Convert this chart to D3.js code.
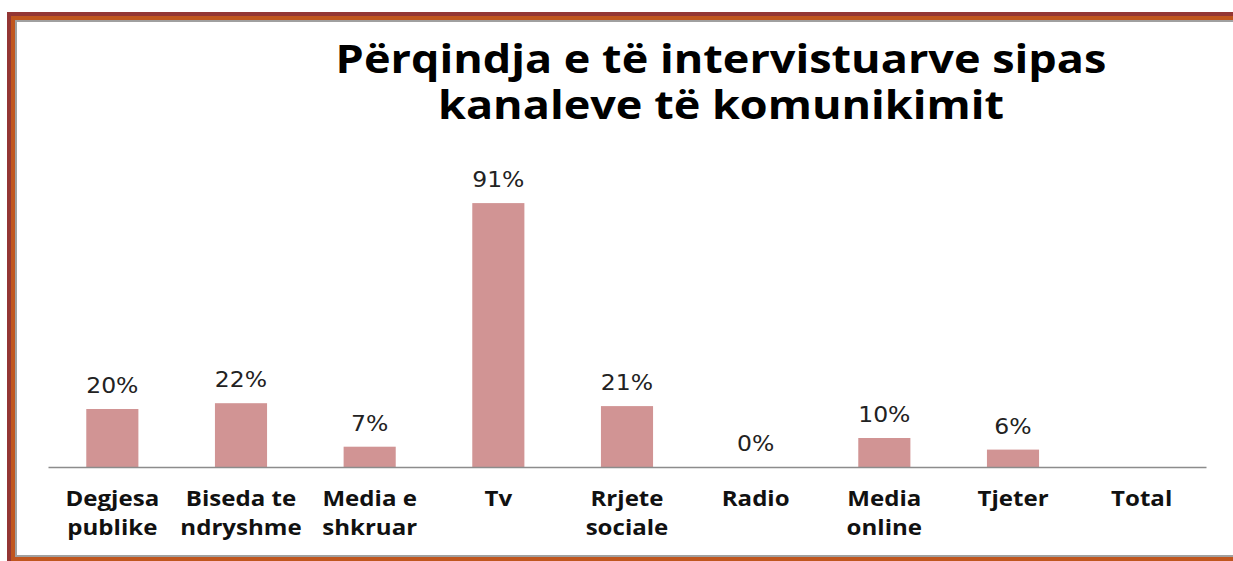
<!DOCTYPE html>
<html>
<head>
<meta charset="utf-8">
<script src="https://cdn.jsdelivr.net/npm/d3@7"></script>
<style>
  body { margin: 0; background: #fff; }
  svg { display: block; }
</style>
</head>
<body>
<svg id="chart" width="1233" height="561"></svg>
<script>
const categories = [
  ["Degjesa", "publike"],
  ["Biseda te", "ndryshme"],
  ["Media e", "shkruar"],
  ["Tv"],
  ["Rrjete", "sociale"],
  ["Radio"],
  ["Media", "online"],
  ["Tjeter"],
  ["Total"]
];
const values = [20, 22, 7, 91, 21, 0, 10, 6, null];
const titleLines = ["Përqindja e të intervistuarve sipas", "kanaleve të komunikimit"];

const width = 1233, height = 561;
const stretch = 1.12; // source picture is a bit wider than tall
const svg = d3.select("#chart");

// frame (dark red / orange / grey), cut off on the right like the source
const frame = [
  {inset: 0, color: "#943634"},
  {inset: 4, color: "#c0561e"},
  {inset: 8, color: "#a0a0a0"},
  {inset: 10, color: "#ffffff"}
];
frame.forEach(f => {
  svg.append("rect")
    .attr("x", 7 + f.inset)
    .attr("y", 12 + f.inset)
    .attr("width", 1300)
    .attr("height", 556 - 12 - f.inset * 2 + 9)
    .attr("fill", f.color);
});

const ids = categories.map((d, i) => i);
const x = d3.scaleBand()
  .domain(ids)
  .range([48, 1206])
  .paddingInner(0.595)
  .paddingOuter(0.2975);

const y = d3.scaleLinear()
  .domain([0, 100])
  .range([467, 177]);

// title
svg.append("g")
  .selectAll("text")
  .data(titleLines)
  .join("text")
    .attr("transform", (d, i) => `translate(721,${73 + i * 46}) scale(${stretch},1)`)
    .attr("text-anchor", "middle")
    .style("font-family", "'Open Sans', sans-serif")
    .style("font-weight", "bold")
    .style("font-size", "40.2px")
    .attr("fill", "#000")
    .text(d => d);

// bars
const barData = values.map((v, i) => ({i, v})).filter(d => d.v !== null);
svg.append("g")
  .selectAll("rect")
  .data(barData)
  .join("rect")
    .attr("x", d => x(d.i))
    .attr("y", d => y(d.v))
    .attr("width", x.bandwidth())
    .attr("height", d => y(0) - y(d.v))
    .attr("fill", "#d19494");

// value labels
svg.append("g")
  .selectAll("text")
  .data(barData)
  .join("text")
    .attr("transform", d => `translate(${x(d.i) + x.bandwidth() / 2},${y(d.v) - 16}) scale(${stretch},1)`)
    .attr("text-anchor", "middle")
    .style("font-family", "'DejaVu Sans', sans-serif")
    .style("font-size", "21px")
    .attr("fill", "#222")
    .text(d => d.v + "%");

// x axis
const xAxis = d3.axisBottom(x).tickSize(0).tickSizeOuter(0).tickFormat(() => "");
const axisG = svg.append("g")
  .attr("transform", `translate(0,${y(0)})`)
  .call(xAxis);
axisG.select(".domain").attr("stroke", "#8c8c8c").attr("stroke-width", 1.5);

axisG.selectAll(".tick text").remove();
axisG.selectAll(".tick")
  .append("text")
    .attr("transform", `scale(${stretch},1)`)
    .attr("text-anchor", "middle")
    .style("font-family", "'Open Sans', sans-serif")
    .style("font-weight", "bold")
    .style("font-size", "21.5px")
    .attr("fill", "#111")
    .selectAll("tspan")
    .data(i => categories[i])
    .join("tspan")
      .attr("x", 0)
      .attr("y", (d, j) => 39 + j * 29)
      .text(d => d);
</script>
</body>
</html>
